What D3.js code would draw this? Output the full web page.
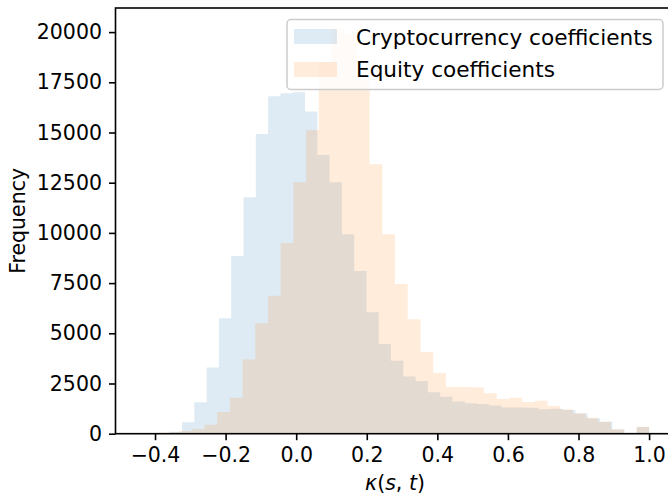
<!DOCTYPE html>
<html>
<head>
<meta charset="utf-8">
<script src="https://cdn.jsdelivr.net/npm/d3@7"></script>
<style>
body { margin: 0; background: #fff; }
text { font-family: "DejaVu Sans", sans-serif; }
</style>
</head>
<body>
<svg id="chart" width="668" height="495"></svg>
<script>
// histogram counts, 40 equal bins over each range
var cryptoRange = [-0.393, 1.0];
var cryptoCounts = [30, 100, 570, 1570, 3300, 5750, 8850, 11770, 14920, 16810,
	16950, 17000, 16040, 13880, 12520, 9930, 8100, 6050, 4470, 3630,
	2850, 2620, 2060, 1840, 1600, 1520, 1480, 1400, 1310, 1300,
	1290, 1215, 1240, 1180, 1000, 760, 590, 210, 0, 330];

var equityRange = [-0.44, 1.0];
var equityCounts = [40, 50, 60, 140, 240, 450, 1080, 1790, 3700, 5500,
	6870, 9500, 12520, 15120, 18500, 20190, 19900, 17600, 13420, 9930,
	7450, 5700, 4070, 3020, 2330, 2320, 2310, 2010, 1730, 1790,
	1580, 1640, 1380, 1215, 1020, 790, 600, 220, 0, 340];

var seriesNames = ["Cryptocurrency coefficients", "Equity coefficients"];
var seriesColors = ["#1f77b4", "#ff7f0e"];
var xTicks = [-0.4, -0.2, 0.0, 0.2, 0.4, 0.6, 0.8, 1.0];
var yTicks = [0, 2500, 5000, 7500, 10000, 12500, 15000, 17500, 20000];

var fontSize = 20.5;
var legendFont = 21.6;
var margin = {left: 115.5, top: 8, right: 674.5, bottom: 433.7};

var svg = d3.select("#chart");

// matplotlib style 5% margins
var xLo = Math.min(cryptoRange[0], equityRange[0]);
var xHi = Math.max(cryptoRange[1], equityRange[1]);
var xPad = (xHi - xLo) * 0.05;
var x = d3.scaleLinear()
	.domain([xLo - xPad, xHi + xPad])
	.range([margin.left, margin.right]);

var yMax = d3.max(cryptoCounts.concat(equityCounts)) * 1.05;
var y = d3.scaleLinear()
	.domain([0, yMax])
	.range([margin.bottom, margin.top]);

function binPoints(range, counts) {
	var w = (range[1] - range[0]) / counts.length;
	var pts = counts.map(function(c, i) { return [range[0] + i * w, c]; });
	pts.push([range[1], counts[counts.length - 1]]);
	return pts;
}

var area = d3.area()
	.curve(d3.curveStepAfter)
	.x(function(d) { return x(d[0]); })
	.y0(y(0))
	.y1(function(d) { return y(d[1]); });

var plot = svg.append("g");
[[cryptoRange, cryptoCounts], [equityRange, equityCounts]].forEach(function(s, i) {
	plot.append("path")
		.attr("d", area(binPoints(s[0], s[1])))
		.attr("fill", seriesColors[i])
		.attr("fill-opacity", 0.15);
});

// axes
var xAxis = d3.axisBottom(x)
	.tickValues(xTicks)
	.tickFormat(d3.format(".1f"))
	.tickSize(6.5)
	.tickSizeOuter(0)
	.tickPadding(7);
var yAxis = d3.axisLeft(y)
	.tickValues(yTicks)
	.tickFormat(d3.format("d"))
	.tickSize(6.5)
	.tickSizeOuter(0)
	.tickPadding(7);

var gx = svg.append("g").attr("transform", "translate(0," + margin.bottom + ")").call(xAxis);
var gy = svg.append("g").attr("transform", "translate(" + margin.left + ",0)").call(yAxis);
[gx, gy].forEach(function(g) {
	g.select(".domain").remove();
	g.selectAll(".tick line").attr("stroke", "#000").attr("stroke-width", 1.6);
	g.selectAll(".tick text").attr("fill", "#000").style("font-size", fontSize + "px")
		.style("font-family", "DejaVu Sans");
});

// spines
svg.append("rect")
	.attr("x", margin.left)
	.attr("y", margin.top)
	.attr("width", margin.right - margin.left)
	.attr("height", margin.bottom - margin.top)
	.attr("fill", "none")
	.attr("stroke", "#000")
	.attr("stroke-width", 1.6);

// labels
var xl = svg.append("text")
	.attr("x", (margin.left + margin.right) / 2)
	.attr("y", 490)
	.attr("text-anchor", "middle")
	.style("font-size", fontSize + "px");
[["κ", true], ["(", false], ["s", true], [", ", false], ["t", true], [")", false]].forEach(function(p) {
	xl.append("tspan").text(p[0]).style("font-style", p[1] ? "italic" : "normal");
});

svg.append("text")
	.attr("transform", "translate(25," + (margin.top + margin.bottom) / 2 + ") rotate(-90)")
	.attr("text-anchor", "middle")
	.style("font-size", fontSize + "px")
	.text("Frequency");

// legend
var leg = svg.append("g");
leg.append("rect")
	.attr("x", 287).attr("y", 19.5)
	.attr("width", 376).attr("height", 70)
	.attr("rx", 4)
	.attr("fill", "#fff").attr("fill-opacity", 0.8)
	.attr("stroke", "#cccccc").attr("stroke-width", 1.5);

seriesNames.forEach(function(name, i) {
	leg.append("rect")
		.attr("x", 294).attr("y", 29 + i * 33)
		.attr("width", 43).attr("height", 15)
		.attr("fill", seriesColors[i]).attr("fill-opacity", 0.15);
	leg.append("text")
		.attr("x", 356).attr("y", 45 + i * 32)
		.style("font-size", legendFont + "px")
		.text(name);
});
</script>
</body>
</html>
